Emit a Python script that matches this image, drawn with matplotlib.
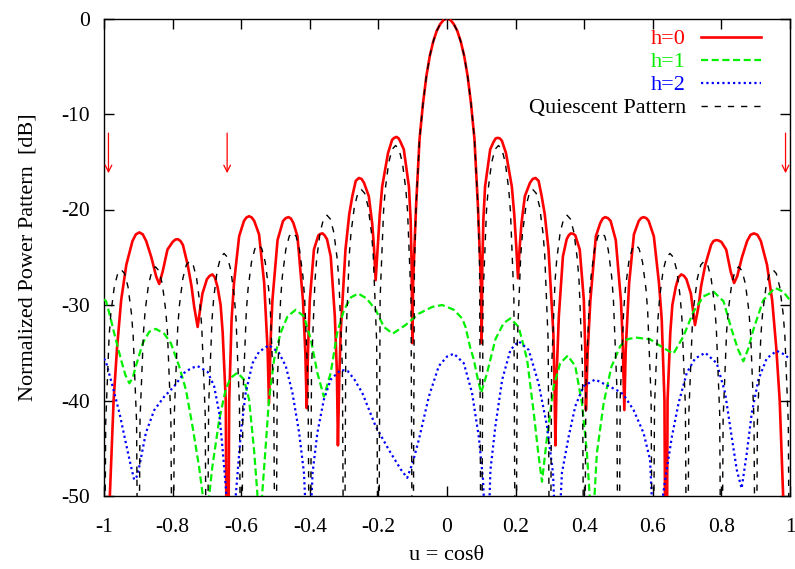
import matplotlib
matplotlib.use("Agg")
import matplotlib.pyplot as plt

plt.rcParams['font.family'] = ['Liberation Serif', 'DejaVu Serif']

# ---------------- data ----------------
red_u = [-1.0, -0.988, -0.983, -0.972, -0.962, -0.95, -0.935, -0.917, -0.907, -0.897,
         -0.887, -0.877, -0.862, -0.848, -0.839, -0.829, -0.815, -0.800, -0.792, -0.785,
         -0.777, -0.770, -0.756, -0.745, -0.737, -0.727, -0.72, -0.713, -0.700, -0.692,
         -0.684, -0.677, -0.669, -0.66, -0.654, -0.645, -0.640, -0.635, -0.628, -0.621,
         -0.606, -0.592, -0.585, -0.577, -0.569, -0.562, -0.548, -0.533, -0.523, -0.519,
         -0.514, -0.509, -0.494, -0.478, -0.470, -0.462, -0.455, -0.448, -0.436, -0.42,
         -0.413, -0.409, -0.405, -0.400, -0.388, -0.375, -0.369, -0.363, -0.357, -0.350,
         -0.339, -0.327, -0.321, -0.318, -0.314, -0.310, -0.296, -0.285, -0.276, -0.266,
         -0.257, -0.249, -0.242, -0.228, -0.218, -0.213, -0.208, -0.202, -0.196, -0.189,
         -0.172, -0.160, -0.154, -0.147, -0.141, -0.136, -0.126, -0.111, -0.106, -0.103,
         -0.101, -0.099, -0.095, -0.090, -0.080, -0.070, -0.060, -0.050, -0.040, -0.030,
         -0.020, -0.010, 0.0,
         0.010, 0.020, 0.030, 0.040, 0.050, 0.060, 0.070, 0.080, 0.090, 0.095,
         0.099, 0.101, 0.103, 0.106, 0.111, 0.126, 0.136, 0.142, 0.148, 0.154,
         0.160, 0.172, 0.189, 0.196, 0.202, 0.207, 0.212, 0.217, 0.227, 0.242,
         0.250, 0.258, 0.267, 0.276, 0.285, 0.296, 0.310, 0.313, 0.316, 0.320,
         0.326, 0.338, 0.349, 0.355, 0.361, 0.368, 0.374, 0.387, 0.399, 0.403,
         0.405, 0.410, 0.418, 0.434, 0.447, 0.454, 0.461, 0.469, 0.477, 0.492,
         0.507, 0.512, 0.517, 0.521, 0.531, 0.545, 0.559, 0.566, 0.573, 0.581,
         0.588, 0.603, 0.618, 0.626, 0.634, 0.639, 0.643, 0.651, 0.657, 0.667,
         0.675, 0.683, 0.691, 0.698, 0.711, 0.717, 0.723, 0.733, 0.741, 0.753,
         0.770, 0.777, 0.785, 0.792, 0.800, 0.814, 0.827, 0.837, 0.846, 0.860,
         0.875, 0.885, 0.895, 0.905, 0.915, 0.933, 0.948, 0.960, 0.970, 0.980,
         0.986, 1.0]
red_db = [-58, -75, -50, -40, -34.5, -29.5, -25.8, -23.3, -22.6, -22.4,
          -22.6, -23.3, -25.0, -27.0, -27.8, -26.5, -24.2, -23.4, -23.15, -23.1,
          -23.3, -23.7, -25.8, -28.0, -30.2, -32.3, -30.5, -28.8, -27.3, -26.95,
          -26.8, -27.1, -28.1, -30.0, -32.9, -40.0, -75, -40.0, -31.5, -27.7,
          -22.8, -21.2, -20.85, -20.7, -20.85, -21.2, -22.6, -27.7, -34.7, -40.3,
          -33.5, -29.5, -23.2, -21.2, -20.9, -20.8, -20.95, -21.4, -22.8, -29.5,
          -35.0, -40.8, -34.5, -29.5, -24.2, -22.7, -22.55, -22.5, -22.7, -23.1,
          -24.9, -31.2, -37.0, -44.7, -37.5, -32.9, -24.2, -20.5, -18.6, -17.0,
          -16.7, -16.8, -17.2, -18.6, -21.5, -23.9, -27.4, -23.9, -20.5, -17.6,
          -14.1, -12.7, -12.5, -12.4, -12.55, -12.9, -13.7, -17.6, -21.1, -26.0,
          -34.0, -28.0, -24.0, -19.5, -12.6, -8.9, -6.0, -3.9, -2.4, -1.3,
          -0.6, -0.15, 0.0,
          -0.15, -0.6, -1.3, -2.4, -3.9, -6.0, -8.9, -12.6, -19.5, -24.0,
          -28.0, -34.0, -26.0, -21.1, -17.6, -13.7, -12.9, -12.55, -12.5, -12.55,
          -12.8, -14.1, -17.6, -20.5, -23.9, -27.2, -23.9, -21.5, -18.6, -17.2,
          -16.8, -16.7, -17.0, -18.6, -20.5, -24.2, -32.9, -37.5, -44.7, -37.0,
          -31.2, -24.9, -23.1, -22.7, -22.5, -22.55, -22.7, -24.2, -29.5, -34.5,
          -41.0, -35.0, -29.5, -22.8, -21.4, -20.95, -20.8, -20.9, -21.2, -23.2,
          -29.5, -33.5, -41.0, -34.7, -27.7, -22.6, -21.2, -20.9, -20.8, -20.9,
          -21.2, -22.8, -27.7, -31.5, -40.0, -75, -40.0, -32.9, -30.0, -28.1,
          -27.1, -26.8, -26.95, -27.3, -28.8, -30.5, -32.1, -30.2, -28.0, -25.8,
          -23.7, -23.3, -23.2, -23.25, -23.4, -24.2, -26.5, -27.7, -27.0, -25.0,
          -23.3, -22.65, -22.5, -22.65, -23.3, -25.8, -29.5, -34.5, -40.0, -50.0,
          -75, -58]

green_u = [-1.0, -0.994, -0.982, -0.970, -0.9505, -0.938, -0.926, -0.916, -0.907, -0.887,
           -0.868, -0.849, -0.8245, -0.805, -0.781, -0.761, -0.742, -0.723, -0.710, -0.703,
           -0.695, -0.684, -0.664, -0.645, -0.630, -0.611, -0.592, -0.577, -0.5625, -0.553,
           -0.548, -0.538, -0.528, -0.519, -0.504, -0.485, -0.465, -0.441, -0.417, -0.397,
           -0.378, -0.359, -0.339, -0.320, -0.300, -0.280, -0.259, -0.235, -0.208, -0.184,
           -0.158, -0.121, -0.082, -0.043, -0.014, 0.020, 0.044, 0.054, 0.068, 0.078,
           0.090, 0.0995, 0.117, 0.141, 0.165, 0.185, 0.209, 0.2335, 0.253, 0.266,
           0.277, 0.2917, 0.311, 0.330, 0.352, 0.374, 0.3935, 0.408, 0.416, 0.423,
           0.430, 0.437, 0.4566, 0.479, 0.505, 0.525, 0.549, 0.5924, 0.631, 0.660,
           0.689, 0.7185, 0.7476, 0.777, 0.806, 0.830, 0.848, 0.864, 0.878, 0.893,
           0.922, 0.956, 0.980, 1.0]
green_db = [-29.4, -29.6, -31.2, -33.0, -35.7, -37.3, -38.2, -37.6, -36.4, -34.0,
            -32.8, -32.5, -33.0, -34.0, -36.4, -38.9, -42.7, -46.9, -50.5, -56,
            -50.5, -46.9, -42.0, -38.8, -37.6, -37.1, -37.8, -39.9, -45.2, -49.7,
            -55, -49.4, -44.5, -39.9, -35.7, -32.9, -31.2, -30.5, -31.2, -33.6,
            -37.1, -39.6, -37.1, -32.9, -30.5, -29.2, -28.8, -29.3, -30.5, -32.3,
            -33.0, -32.1, -30.9, -30.2, -30.0, -30.5, -31.4, -32.3, -34.5, -35.7,
            -37.8, -39.2, -37.1, -33.6, -31.9, -31.4, -32.3, -35.7, -41.3, -45.5,
            -48.5, -43.8, -38.5, -36.1, -35.3, -36.4, -40.3, -45.5, -50, -56,
            -50, -45.5, -40.3, -36.5, -34.3, -33.6, -33.4, -33.6, -34.5, -35.1,
            -33.3, -30.7, -29.1, -28.6, -29.6, -32.6, -34.6, -35.9, -34.6, -32.6,
            -29.5, -28.2, -28.6, -29.5]

blue_u = [-1.0, -0.994, -0.975, -0.955, -0.936, -0.922, -0.912, -0.905, -0.897, -0.878,
          -0.8535, -0.8245, -0.795, -0.766, -0.745, -0.727, -0.698, -0.679, -0.664, -0.654,
          -0.645, -0.630, -0.616, -0.601, -0.587, -0.567, -0.548, -0.519, -0.490, -0.470,
          -0.4506, -0.431, -0.417, -0.404, -0.392, -0.378, -0.359, -0.339, -0.310, -0.290,
          -0.270, -0.247, -0.208, -0.169, -0.135, -0.116, -0.100, -0.082, -0.053, -0.024,
          0.0, 0.020, 0.049, 0.073, 0.0927, 0.105, 0.117, 0.1266, 0.141, 0.161,
          0.185, 0.209, 0.238, 0.267, 0.2917, 0.309, 0.321, 0.335, 0.3546, 0.374,
          0.398, 0.432, 0.466, 0.505, 0.515, 0.544, 0.573, 0.592, 0.607, 0.622,
          0.636, 0.6556, 0.675, 0.699, 0.7234, 0.753, 0.7865, 0.8108, 0.830, 0.845,
          0.859, 0.874, 0.8886, 0.908, 0.932, 0.961, 0.985, 1.0]
blue_db = [-35.6, -36.0, -38.5, -41.3, -44.5, -46.8, -48.3, -48.0, -46.9, -43.4,
           -41.0, -39.6, -38.5, -37.1, -36.6, -36.4, -37.0, -38.5, -41.3, -45.2,
           -49.0, -58, -50, -43.4, -39.2, -36.1, -34.9, -34.2, -35.0, -36.4,
           -39.2, -43.4, -47.6, -58, -47.6, -43.4, -39.9, -37.8, -36.8, -36.9,
           -37.8, -39.2, -42.7, -45.2, -47.2, -48.1, -46.5, -44.1, -39.6, -36.4,
           -35.4, -35.1, -36.1, -39.2, -43.8, -48.3, -58, -47.3, -42.7, -37.8,
           -34.7, -33.8, -34.7, -38.2, -42.7, -47.6, -58, -47.6, -43.8, -40.6,
           -38.5, -37.8, -38.4, -39.1, -39.4, -41.0, -43.4, -46.2, -58, -52,
           -48.3, -43.8, -40.3, -37.1, -35.6, -35.0, -36.1, -39.2, -43.8, -47.3,
           -49.2, -45.5, -41.3, -37.8, -35.6, -34.8, -35.2, -35.7]

quiet_u = [-1.000, -0.995, -0.985, -0.980, -0.970, -0.960, -0.950, -0.940, -0.930, -0.920, -0.915, -0.905,
           -0.900, -0.895, -0.885, -0.880, -0.870, -0.860, -0.850, -0.840, -0.830, -0.820, -0.815, -0.805,
           -0.800, -0.795, -0.785, -0.780, -0.770, -0.760, -0.750, -0.740, -0.730, -0.720, -0.715, -0.705,
           -0.700, -0.695, -0.685, -0.680, -0.670, -0.660, -0.650, -0.640, -0.630, -0.620, -0.615, -0.605,
           -0.600, -0.595, -0.585, -0.580, -0.570, -0.560, -0.550, -0.540, -0.530, -0.520, -0.515, -0.505,
           -0.500, -0.495, -0.485, -0.480, -0.470, -0.460, -0.450, -0.440, -0.430, -0.420, -0.415, -0.405,
           -0.400, -0.395, -0.385, -0.380, -0.370, -0.360, -0.350, -0.340, -0.330, -0.320, -0.315, -0.305,
           -0.300, -0.295, -0.285, -0.280, -0.270, -0.260, -0.250, -0.240, -0.230, -0.220, -0.215, -0.205,
           -0.200, -0.195, -0.185, -0.180, -0.170, -0.160, -0.150, -0.140, -0.130, -0.120, -0.115, -0.105,
           -0.100, -0.095, -0.090, -0.080, -0.070, -0.060, -0.050, -0.040, -0.030, -0.020, -0.010,
           0.000,
           0.010, 0.020, 0.030, 0.040, 0.050, 0.060, 0.070, 0.080, 0.090, 0.095,
           0.100, 0.105, 0.115, 0.120, 0.130, 0.140, 0.150, 0.160, 0.170, 0.180, 0.185, 0.195,
           0.200, 0.205, 0.215, 0.220, 0.230, 0.240, 0.250, 0.260, 0.270, 0.280, 0.285, 0.295,
           0.300, 0.305, 0.315, 0.320, 0.330, 0.340, 0.350, 0.360, 0.370, 0.380, 0.385, 0.395,
           0.400, 0.405, 0.415, 0.420, 0.430, 0.440, 0.450, 0.460, 0.470, 0.480, 0.485, 0.495,
           0.500, 0.505, 0.515, 0.520, 0.530, 0.540, 0.550, 0.560, 0.570, 0.580, 0.585, 0.595,
           0.600, 0.605, 0.615, 0.620, 0.630, 0.640, 0.650, 0.660, 0.670, 0.680, 0.685, 0.695,
           0.700, 0.705, 0.715, 0.720, 0.730, 0.740, 0.750, 0.760, 0.770, 0.780, 0.785, 0.795,
           0.800, 0.805, 0.815, 0.820, 0.830, 0.840, 0.850, 0.860, 0.870, 0.880, 0.885, 0.895,
           0.900, 0.905, 0.915, 0.920, 0.930, 0.940, 0.950, 0.960, 0.970, 0.980, 0.985, 0.995, 1.000]
quiet_db = [-70, -42.3, -33.2, -30.9, -28.1, -26.7, -26.3, -26.7, -28.1, -30.9, -33.2, -42.3,
            -70, -42.0, -32.9, -30.6, -27.8, -26.4, -26.0, -26.4, -27.8, -30.6, -32.9, -42.0,
            -70, -41.4, -32.3, -30.0, -27.2, -25.8, -25.4, -25.8, -27.2, -30.0, -32.3, -41.4,
            -70, -40.6, -31.5, -29.2, -26.4, -25.0, -24.6, -25.0, -26.4, -29.2, -31.5, -40.6,
            -70, -39.7, -30.6, -28.3, -25.5, -24.1, -23.7, -24.1, -25.5, -28.3, -30.6, -39.7,
            -70, -38.4, -29.3, -27.0, -24.2, -22.8, -22.4, -22.8, -24.2, -27.0, -29.3, -38.4,
            -70, -36.6, -27.5, -25.2, -22.4, -21.0, -20.6, -21.0, -22.4, -25.2, -27.5, -36.6,
            -70, -33.9, -24.8, -22.5, -19.7, -18.3, -17.9, -18.3, -19.7, -22.5, -24.8, -33.9,
            -70, -29.3, -20.2, -17.9, -15.1, -13.7, -13.3, -13.7, -15.1, -17.9, -20.2, -29.3,
            -70, -25.9, -19.5, -12.6, -8.9, -6.0, -3.9, -2.4, -1.3, -0.6, -0.15,
            0.0,
            -0.15, -0.6, -1.3, -2.4, -3.9, -6.0, -8.9, -12.6, -19.5, -25.9,
            -70, -29.3, -20.2, -17.9, -15.1, -13.7, -13.3, -13.7, -15.1, -17.9, -20.2, -29.3,
            -70, -33.9, -24.8, -22.5, -19.7, -18.3, -17.9, -18.3, -19.7, -22.5, -24.8, -33.9,
            -70, -36.6, -27.5, -25.2, -22.4, -21.0, -20.6, -21.0, -22.4, -25.2, -27.5, -36.6,
            -70, -38.4, -29.3, -27.0, -24.2, -22.8, -22.4, -22.8, -24.2, -27.0, -29.3, -38.4,
            -70, -39.7, -30.6, -28.3, -25.5, -24.1, -23.7, -24.1, -25.5, -28.3, -30.6, -39.7,
            -70, -40.6, -31.5, -29.2, -26.4, -25.0, -24.6, -25.0, -26.4, -29.2, -31.5, -40.6,
            -70, -41.4, -32.3, -30.0, -27.2, -25.8, -25.4, -25.8, -27.2, -30.0, -32.3, -41.4,
            -70, -42.0, -32.9, -30.6, -27.8, -26.4, -26.0, -26.4, -27.8, -30.6, -32.9, -42.0,
            -70, -42.3, -33.2, -30.9, -28.1, -26.7, -26.3, -26.7, -28.1, -30.9, -33.2, -42.3, -70]

arrow_u = [-0.987, -0.641, 0.987]
arrow_top_db = -12.0
arrow_tip_db = -16.2

series_labels = ['h=0', 'h=1', 'h=2', 'Quiescent Pattern']
x_ticks = [-1, -0.8, -0.6, -0.4, -0.2, 0, 0.2, 0.4, 0.6, 0.8, 1]
x_tick_labels = ['-1', '-0.8', '-0.6', '-0.4', '-0.2', '0', '0.2', '0.4', '0.6', '0.8', '1']
y_ticks = [-50, -40, -30, -20, -10, 0]
y_tick_labels = ['-50', '-40', '-30', '-20', '-10', '0']

# ---------------- figure ----------------
W, H = 795, 569
fig = plt.figure(figsize=(W / 100, H / 100), dpi=100)
L, R, T, B = 104, 790, 18.5, 496
ax = fig.add_axes([L / W, 1 - B / H, (R - L) / W, (B - T) / H])

RED, GREEN, BLUE = '#ff0000', '#00f000', '#0000ff'
styles = [
    dict(color=RED, lw=1.9, linestyle='-'),
    dict(color=GREEN, lw=1.6, linestyle=(0, (3.2, 1.6))),
    dict(color=BLUE, lw=1.6, linestyle=(0, (1.0, 1.4))),
    dict(color='black', lw=1.0, linestyle=(0, (4.5, 5))),
]
curves = [(red_u, red_db), (green_u, green_db), (blue_u, blue_db), (quiet_u, quiet_db)]
for i, ((uu, dd), st) in enumerate(zip(curves, styles)):
    ax.plot(uu, dd, zorder=3 + i, solid_joinstyle='round', **st)

for ua in arrow_u:
    ax.annotate('', xy=(ua, arrow_tip_db), xytext=(ua, arrow_top_db),
                arrowprops=dict(arrowstyle='->', color=RED, lw=0.9,
                                mutation_scale=12, shrinkA=0, shrinkB=0),
                zorder=8)

ax.set_xlim(-1, 1)
ax.set_ylim(-50, 0)
ax.set_xticks(x_ticks)
ax.set_xticklabels(x_tick_labels)
ax.set_yticks(y_ticks)
ax.set_yticklabels(y_tick_labels)
ax.tick_params(direction='in', length=7, width=1, top=True, right=True,
               labelsize=15.5)
ax.tick_params(axis='x', pad=16)
ax.tick_params(axis='y', pad=10)
for s in ax.spines.values():
    s.set_linewidth(1.0)

ax.set_xlabel('u = cosθ', fontsize=16, labelpad=6)
ax.set_ylabel('Normalized Power Pattern  [dB]', fontsize=16, labelpad=17)

# legend (gnuplot-style: text right-aligned, sample line to the right)
leg_rows_px = [37, 60, 83, 106]
text_right_px = 686
line_px = (701, 761)
for (lab, st, ypx) in zip(series_labels, styles, leg_rows_px):
    yf = (B - ypx) / (B - T)
    ax.plot([(line_px[0] - L) / (R - L), (line_px[1] - L) / (R - L)], [yf, yf],
            transform=ax.transAxes, clip_on=False, zorder=9, **st)
    ax.text((text_right_px - L) / (R - L), yf, lab, transform=ax.transAxes,
            ha='right', va='center_baseline', fontsize=16, color=st['color'], zorder=9)

fig.savefig('out.png', dpi=100)
